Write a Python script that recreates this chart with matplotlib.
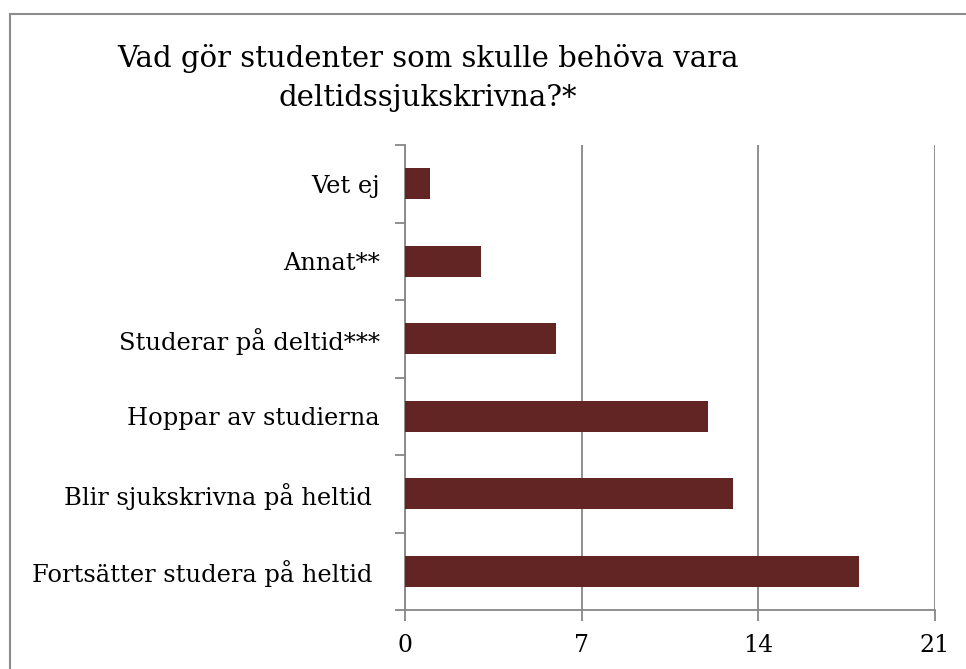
import matplotlib.pyplot as plt
from matplotlib.patches import Rectangle

categories = ["Fortsätter studera på heltid ", "Blir sjukskrivna på heltid ",
              "Hoppar av studierna", "Studerar på deltid***", "Annat**", "Vet ej"]
values = [18, 13, 12, 6, 3, 1]
xticks = [0, 7, 14, 21]
title = "Vad gör studenter som skulle behöva vara\ndeltidssjukskrivna?*"

bar_color = "#632523"
grid_color = "#878787"

plt.rcParams['font.family'] = ['DejaVu Serif']

fig = plt.figure(figsize=(9.66, 6.69), dpi=100)
fig.patches.append(Rectangle((10 / 966, -0.1), 1.2, 1 - 14 / 669 + 0.1,
                             transform=fig.transFigure, fill=False,
                             edgecolor="#8c8c8c", linewidth=1.5))

ax = fig.add_axes([405 / 966, 59 / 669, 530 / 966, 465 / 669])
pos = range(len(categories))
ax.barh(pos, values, height=0.4, color=bar_color, zorder=3)

ax.set_xlim(0, 21)
ax.set_ylim(-0.5, 5.5)
ax.set_xticks(xticks)
ax.set_yticks(pos)
ax.set_yticklabels(categories)
ax.set_yticks([i - 0.5 for i in range(len(categories) + 1)], minor=True)

ax.tick_params(axis='y', which='major', length=0, pad=18, labelsize=17.4)
ax.tick_params(axis='y', which='minor', length=7, width=1.3, color=grid_color)
ax.tick_params(axis='x', length=8, width=1.3, color=grid_color, pad=9, labelsize=17)

ax.xaxis.grid(True, color=grid_color, linewidth=1.3, zorder=0)
for s in ['top', 'right']:
    ax.spines[s].set_visible(False)
for s in ['left', 'bottom']:
    ax.spines[s].set_color(grid_color)
    ax.spines[s].set_linewidth(1.3)

fig.text(428 / 966, 1 - 78 / 669, title, ha='center', va='center',
         fontsize=21, linespacing=1.48)

fig.savefig("out.png", dpi=100)
